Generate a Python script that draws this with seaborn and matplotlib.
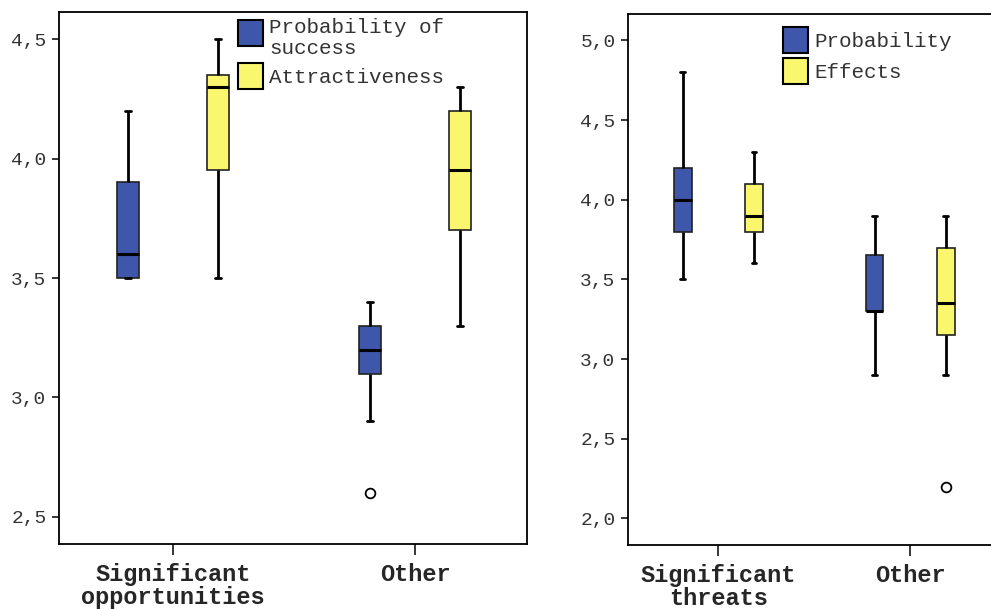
import numpy as np
import pandas as pd
import matplotlib
matplotlib.use("Agg")
import matplotlib.pyplot as plt
import seaborn as sns

opp_groups = ["Significant\nopportunities", "Other"]
opp_measures = ["Probability of success", "Attractiveness"]
opp_prob_sig = [3.5, 3.5, 3.6, 3.9, 4.2]
opp_attr_sig = [3.5, 3.95, 4.3, 4.35, 4.5]
opp_prob_other = [2.6, 2.9, 3.1, 3.1, 3.2, 3.3, 3.3, 3.4, 3.4]
opp_attr_other = [3.3, 3.7, 3.95, 4.2, 4.3]

thr_groups = ["Significant\nthreats", "Other"]
thr_measures = ["Probability", "Effects"]
thr_prob_sig = [3.5, 3.8, 4.0, 4.2, 4.8]
thr_eff_sig = [3.6, 3.8, 3.9, 4.1, 4.3]
thr_prob_other = [2.9, 3.3, 3.3, 3.65, 3.9]
thr_eff_other = [2.2, 2.9, 3.15, 3.15, 3.35, 3.7, 3.7, 3.9, 3.9]

opp_ticks = [2.5, 3.0, 3.5, 4.0, 4.5]
thr_ticks = [2.0, 2.5, 3.0, 3.5, 4.0, 4.5, 5.0]

blue = "#3E57AA"
yellow = "#FAF76E"


def long_df(groups, measures, cells):
    rows = []
    for (g, m), vals in cells.items():
        for v in vals:
            rows.append({"group": groups[g], "measure": measures[m], "value": v})
    return pd.DataFrame(rows)


opp_df = long_df(opp_groups, opp_measures, {
    (0, 0): opp_prob_sig, (0, 1): opp_attr_sig,
    (1, 0): opp_prob_other, (1, 1): opp_attr_other})
thr_df = long_df(thr_groups, thr_measures, {
    (0, 0): thr_prob_sig, (0, 1): thr_eff_sig,
    (1, 0): thr_prob_other, (1, 1): thr_eff_other})

sns.set_style("white")
plt.rcParams["font.family"] = ["Liberation Mono", "DejaVu Sans Mono"]

fig = plt.figure(figsize=(9.91, 6.09), dpi=100)
ax1 = fig.add_axes([59 / 991, 1 - 544 / 609, 468 / 991, 532 / 609])
ax2 = fig.add_axes([628 / 991, 1 - 545 / 609, 371 / 991, 531.4 / 609])


def draw(ax, df, groups, measures, ticks, ylim, legend_xy, labels):
    sns.boxplot(data=df, x="group", y="value", hue="measure",
                order=groups, hue_order=measures,
                palette={measures[0]: blue, measures[1]: yellow},
                width=0.744, gap=0.75, saturation=1, linecolor="#222222",
                linewidth=1.2, whis=1.5, capwidths=0.025,
                medianprops=dict(color="black", linewidth=2.2),
                whiskerprops=dict(color="black", linewidth=2),
                capprops=dict(color="black", linewidth=2),
                flierprops=dict(marker="o", markerfacecolor="white",
                                markeredgecolor="black", markersize=7,
                                markeredgewidth=1.3),
                ax=ax)
    ax.set_xlim(-0.471, 1.463)
    ax.set_ylim(*ylim)
    ax.set_yticks(ticks)
    ax.set_yticklabels([f"{t:.1f}".replace(".", ",") for t in ticks])
    ax.set_xlabel("")
    ax.set_ylabel("")
    for s in ax.spines.values():
        s.set_visible(True)
        s.set_color("black")
        s.set_linewidth(1.3)
    ax.tick_params(axis="y", direction="out", length=5, width=1.3, pad=4,
                   labelsize=14, labelcolor="#333333", left=True)
    ax.tick_params(axis="x", direction="out", length=8, width=1.3, pad=6,
                   labelsize=17, bottom=True)
    for t in ax.get_xticklabels():
        t.set_fontweight("bold")
        t.set_linespacing(0.95)
    handles, _ = ax.get_legend_handles_labels()
    leg = ax.legend(handles, labels, loc="upper left", frameon=False,
                    bbox_to_anchor=legend_xy, bbox_transform=fig.transFigure,
                    fontsize=15, handlelength=1.2, handleheight=1.54,
                    handletextpad=0.3, labelspacing=0.25, borderpad=0,
                    borderaxespad=0)
    for h in leg.legend_handles:
        h.set_edgecolor("black")
        h.set_linewidth(1.5)
    for t in leg.get_texts():
        t.set_color("#333333")
        t.set_linespacing(1.15)
    return leg


leg1 = draw(ax1, opp_df, opp_groups, opp_measures, opp_ticks, (2.387, 4.613),
            (238 / 991, 1 - 18 / 609), ["Probability of\nsuccess", "Attractiveness"])
# the first swatch sits beside the first line of its two-line label
h0 = leg1.legend_handles[0]
h0.set_y(h0.get_y() + 4.3)

draw(ax2, thr_df, thr_groups, thr_measures, thr_ticks, (1.833, 5.168),
     (783 / 991, 1 - 27 / 609), ["Probability", "Effects"])

fig.savefig("out.png", dpi=100)
